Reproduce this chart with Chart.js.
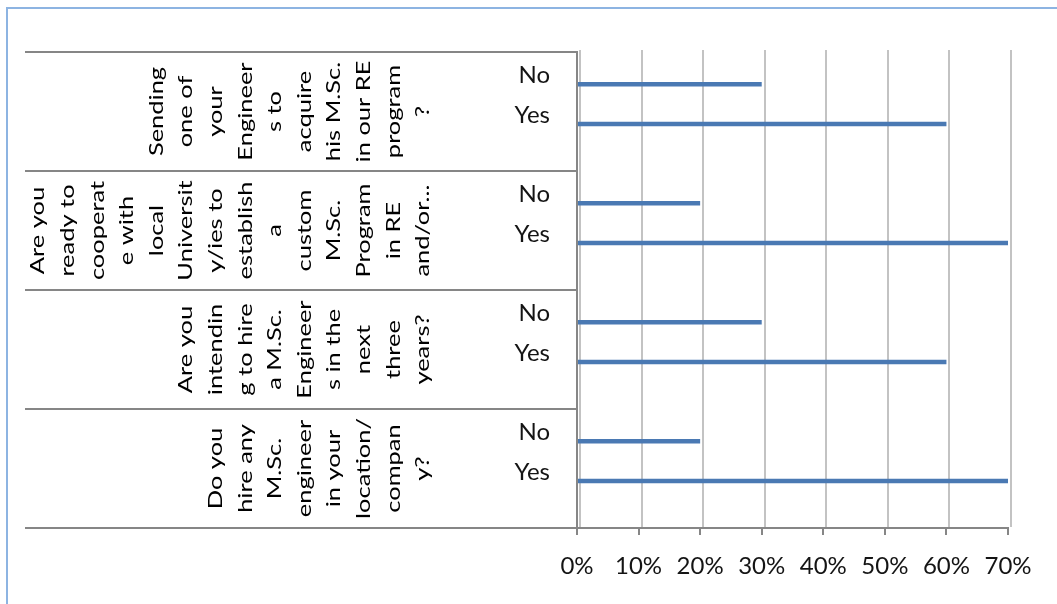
<!DOCTYPE html>
<html><head><meta charset="utf-8">
<script src="https://cdn.jsdelivr.net/npm/chart.js@4"></script>
<style>html,body{margin:0;padding:0;background:#fff}</style>
</head><body>
<canvas id="c" width="1057" height="604"></canvas>
<script>
// ---- data ----
const questions = [
  ['Sending','one of','your','Engineer','s to','acquire','his M.Sc.','in our RE','program','?'],
  ['Are you','ready to','cooperat','e with','local','Universit','y/ies to','establish','a','custom','M.Sc.','Program','in RE','and/or...'],
  ['Are you','intendin','g to hire','a M.Sc.','Engineer','s in the','next','three','years?'],
  ['Do you','hire any','M.Sc.','engineer','in your','location/','compan','y?']
];
const answers = ['No', 'Yes'];
const noValues = [30, 20, 30, 20];
const yesValues = [60, 70, 60, 70];
const xTickValues = [0, 10, 20, 30, 40, 50, 60, 70];

// ---- build category slots: No, Yes, (blank) per question ----
const slotLabels = [];
const slotValues = [];
questions.forEach((q, i) => {
  slotLabels.push(answers[0], answers[1], '');
  slotValues.push(noValues[i], yesValues[i], null);
});
const spacer = slotLabels.map(() => null);

const FONT = 'Lato';
const TEXT = '#000000';
const AXIS = '#868686';
const GRID = '#C3C3C3';

const tablePlugin = {
  id: 'table',
  beforeDraw(chart) {
    const ctx = chart.ctx;
    ctx.save();
    ctx.strokeStyle = '#8DB4E2';
    ctx.lineWidth = 2;
    ctx.beginPath();
    ctx.moveTo(7, chart.height + 2);
    ctx.lineTo(7, 8);
    ctx.lineTo(chart.width + 2, 8);
    ctx.stroke();
    ctx.restore();
  },
  beforeDatasetsDraw(chart) {
    // back-wall gridlines (slightly offset as in a 3-D chart)
    const x = chart.scales.x, ctx = chart.ctx, area = chart.chartArea;
    ctx.save();
    ctx.strokeStyle = GRID;
    ctx.lineWidth = 2;
    xTickValues.forEach(v => {
      const px = Math.round(x.getPixelForValue(v)) + 3;
      ctx.beginPath();
      ctx.moveTo(px, area.top - 2);
      ctx.lineTo(px, area.bottom - 1);
      ctx.stroke();
    });
    ctx.restore();
  },
  afterDraw(chart) {
    const y = chart.scales.y, ctx = chart.ctx, area = chart.chartArea;
    ctx.save();
    ctx.strokeStyle = AXIS;
    ctx.lineWidth = 2;
    for (let g = 0; g <= questions.length; g++) {
      const py = Math.round(y.getPixelForValue(g * 3 - 0.5));
      ctx.beginPath();
      ctx.moveTo(25, py);
      ctx.lineTo(area.left, py);
      ctx.stroke();
    }
    ctx.fillStyle = TEXT;
    ctx.font = '19px ' + FONT;
    ctx.textAlign = 'center';
    ctx.textBaseline = 'middle';
    questions.forEach((lines, g) => {
      const cy = y.getPixelForValue(g * 3 + 1);
      const n = lines.length;
      lines.forEach((t, j) => {
        const cx = area.left - 154 - (n - 1 - j) * 29.6;
        ctx.save();
        ctx.translate(cx, cy);
        ctx.rotate(-Math.PI / 2);
        ctx.scale(1.34, 1);
        ctx.fillText(t, 0, 0);
        ctx.restore();
      });
    });
    ctx.restore();
  }
};

new Chart(document.getElementById('c'), {
  type: 'bar',
  data: {
    labels: slotLabels,
    datasets: [
      { data: spacer },
      {
        data: slotValues,
        backgroundColor: '#4A79B3',
        borderWidth: 0
      }
    ]
  },
  options: {
    indexAxis: 'y',
    responsive: false,
    devicePixelRatio: 1,
    animation: false,
    categoryPercentage: 1.26,
    barPercentage: 0.18,
    layout: { padding: { top: 52, right: 49, bottom: 0, left: 0 } },
    plugins: { legend: { display: false }, tooltip: { enabled: false } },
    scales: {
      x: {
        type: 'linear',
        min: xTickValues[0],
        max: xTickValues[xTickValues.length - 1],
        afterBuildTicks: s => { s.ticks = xTickValues.map(v => ({ value: v })); },
        ticks: {
          callback: v => v + '%',
          font: { family: FONT, size: 24 },
          color: '#141414',
          padding: 17,
          maxRotation: 0
        },
        grid: { drawOnChartArea: false, color: AXIS, lineWidth: 2, tickColor: AXIS, tickLength: 7, tickWidth: 2 },
        border: { color: AXIS, width: 2 },
        afterFit: s => { s.height = 76; }
      },
      y: {
        type: 'category',
        ticks: {
          callback: function (v) { return ['', this.getLabelForValue(v)]; },
          font: { family: FONT, size: 24, lineHeight: 0.3 },
          color: '#141414',
          padding: 27,
          autoSkip: false
        },
        grid: { display: false, drawTicks: false },
        border: { color: AXIS, width: 2 },
        afterFit: s => { s.width = 577; }
      }
    }
  },
  plugins: [tablePlugin]
});
</script>
</body></html>
